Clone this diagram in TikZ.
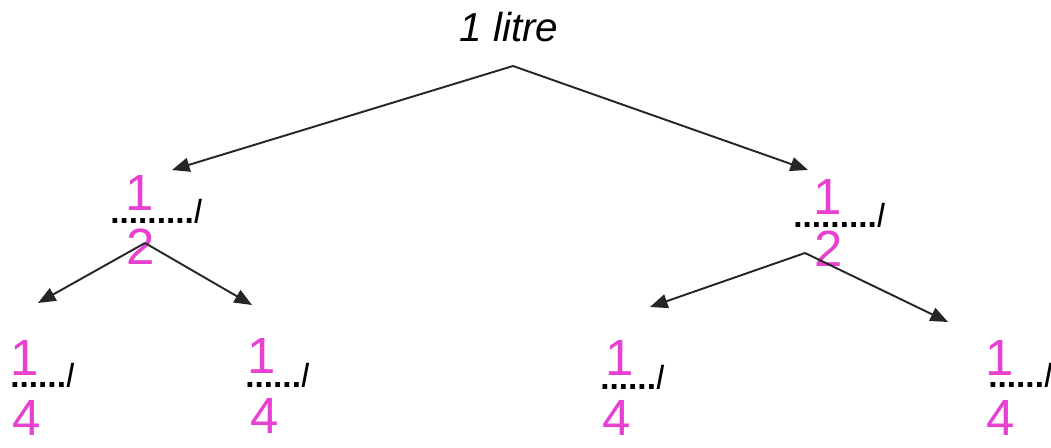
\documentclass[tikz,border=0pt]{standalone}
\usepackage{fontspec}
\setmainfont{Liberation Sans}
\usetikzlibrary{arrows.meta}
\definecolor{pen}{RGB}{232,64,208}
\begin{document}
\begin{tikzpicture}[
      x=0.02cm, y=-0.02cm,
      every node/.style={inner sep=0pt},
      txt/.style={font=\fontsize{19}{22}\selectfont\bfseries, anchor=base west},
      digit/.style={font=\fontsize{29}{32}\selectfont, text=pen},
      arr/.style={-{Triangle[length=10pt, width=8pt]}, line width=1.1pt, black!85},
    ]
    \useasboundingbox (0,0) rectangle (1051,448);

    % --- top: one litre ---
    \node[font=\fontsize{23}{26}\selectfont\itshape] (litre) at (509,27) {1 litre};
    \coordinate (f0) at (513,66);
    \coordinate (tL) at (172,170);
    \coordinate (tR) at (808,170);
    \draw[arr] (f0) -- (tL);
    \draw[arr] (f0) -- (tR);

    % --- halves ---
    \node[txt] (halfL) at (110,224) {.........\textit{\mdseries l}};
    \node[digit] (halfLn) at (140,193) {1};
    \node[digit] (halfLd) at (141,247) {2};
    \node[txt] (halfR) at (793,228) {.........\textit{\mdseries l}};
    \node[digit] (halfRn) at (828,197) {1};
    \node[digit] (halfRd) at (829,249) {2};

    \coordinate (fL) at (145,243);
    \coordinate (tLa) at (38,303);
    \coordinate (tLb) at (252,305);
    \draw[arr] (fL) -- (tLa);
    \draw[arr] (fL) -- (tLb);

    \coordinate (fR) at (805,253);
    \coordinate (tRa) at (650,307);
    \coordinate (tRb) at (948,322);
    \draw[arr] (fR) -- (tRa);
    \draw[arr] (fR) -- (tRb);

    % --- quarters ---
    \node[txt] (qA) at (10,388) {......\textit{\mdseries l}};
    \node[digit] (qAn) at (25,358) {1};
    \node[digit] (qAd) at (27,418) {4};
    \node[txt] (qB) at (245,388) {......\textit{\mdseries l}};
    \node[digit] (qBn) at (262,356) {1};
    \node[digit] (qBd) at (265,416) {4};
    \node[txt] (qC) at (600,390) {......\textit{\mdseries l}};
    \node[digit] (qCn) at (620,358) {1};
    \node[digit] (qCd) at (617,418) {4};
    \node[txt] (qD) at (988,388) {......\textit{\mdseries l}};
    \node[digit] (qDn) at (1000,358) {1};
    \node[digit] (qDd) at (1001,418) {4};
  \end{tikzpicture}
\end{document}
